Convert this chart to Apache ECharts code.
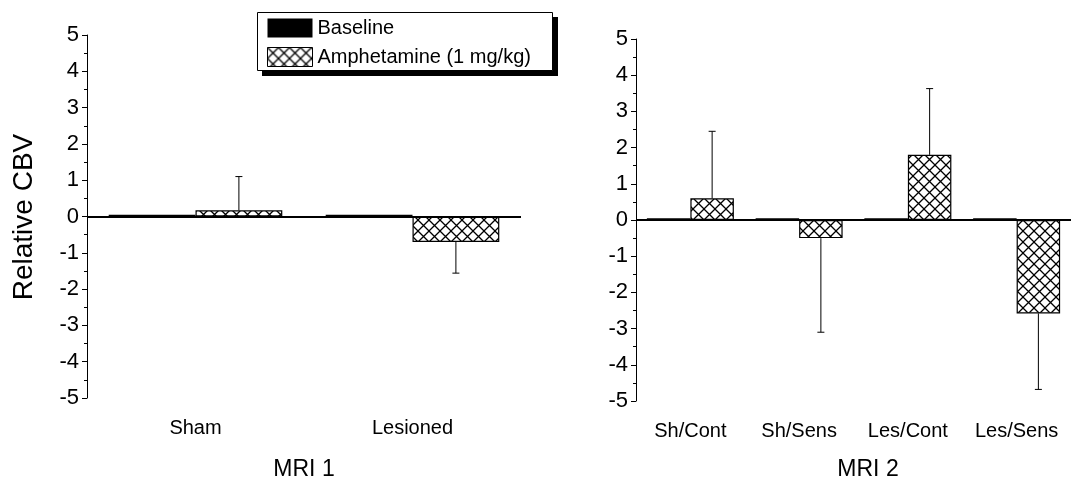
<!DOCTYPE html>
<html>
<head>
<meta charset="utf-8">
<script src="https://cdn.jsdelivr.net/npm/echarts@6/dist/echarts.min.js"></script>
<style>
  html, body { margin: 0; padding: 0; background: #fff; }
  #chart { width: 1078px; height: 494px; }
</style>
</head>
<body>
<div id="chart"></div>
<script>
// MRI 1 session
const mri1Categories = ['Sham', 'Lesioned'];
const mri1Baseline = [0.05, 0.05];
const mri1Amph = [0.17, -0.7];
const mri1AmphErr = [0.93, 0.86];

// MRI 2 session
const mri2Categories = ['Sh/Cont', 'Sh/Sens', 'Les/Cont', 'Les/Sens'];
const mri2Baseline = [0.05, 0.05, 0.05, 0.05];
const mri2Amph = [0.6, -0.5, 1.8, -2.58];
const mri2AmphErr = [1.85, 2.6, 1.83, 2.1];

const yTicks = { min: -5, max: 5, interval: 1 };
const seriesNames = ['Baseline', 'Amphetamine (1 mg/kg)'];

const FONT = '"Liberation Sans", Arial, sans-serif';

// cross-hatch fill for the amphetamine bars
function makeHatch() {
  const s = 11;
  const c = document.createElement('canvas');
  c.width = s; c.height = s;
  const ctx = c.getContext('2d');
  ctx.fillStyle = '#fff';
  ctx.fillRect(0, 0, s, s);
  ctx.strokeStyle = '#000';
  ctx.lineWidth = 1.3;
  ctx.beginPath();
  ctx.moveTo(-1, -1); ctx.lineTo(s + 1, s + 1);
  ctx.moveTo(s + 1, -1); ctx.lineTo(-1, s + 1);
  ctx.stroke();
  return c;
}
const hatch = { image: makeHatch(), repeat: 'repeat' };

function yAxisCfg(gridIndex) {
  return {
    type: 'value', gridIndex,
    min: yTicks.min, max: yTicks.max, interval: yTicks.interval,
    axisLine: { show: true, lineStyle: { color: '#000', width: 1 } },
    axisTick: { show: true, inside: false, length: 5, lineStyle: { color: '#000' } },
    minorTick: { show: true, splitNumber: 2, length: 3, lineStyle: { color: '#000' } },
    splitLine: { show: false },
    axisLabel: { color: '#000', fontSize: 22, fontFamily: FONT, margin: 8 }
  };
}

function xAxisCfg(gridIndex, cats) {
  return {
    type: 'category', gridIndex, data: cats,
    axisLine: { show: false },
    axisTick: { show: false },
    axisLabel: { color: '#000', fontSize: 20, fontFamily: FONT, margin: 20, interval: 0 }
  };
}

// one-sided error bar, drawn from the bar end away from zero
function errorRender(params, api) {
  const idx = api.value(0);
  const v = api.value(1);
  const e = api.value(2);
  const start = api.coord([idx, v]);
  const end = api.coord([idx, v >= 0 ? v + e : v - e]);
  const band = api.size([1, 0])[0];
  const x = start[0] + band * 0.2;
  const st = { stroke: '#000', lineWidth: 1 };
  return {
    type: 'group',
    children: [
      { type: 'line', shape: { x1: x, y1: start[1], x2: x, y2: end[1] }, style: st },
      { type: 'line', shape: { x1: x - 3.5, y1: end[1], x2: x + 3.5, y2: end[1] }, style: st }
    ]
  };
}

function panelSeries(gi, base, amph, err) {
  return [
    {
      type: 'bar', name: seriesNames[0], xAxisIndex: gi, yAxisIndex: gi,
      data: base, barGap: '0%', barCategoryGap: '20%',
      itemStyle: { color: '#000' },
      markLine: {
        silent: true, symbol: 'none', label: { show: false },
        lineStyle: { color: '#000', width: 2, type: 'solid' },
        data: [{ yAxis: 0 }]
      }
    },
    {
      type: 'bar', name: seriesNames[1], xAxisIndex: gi, yAxisIndex: gi,
      data: amph, barGap: '0%', barCategoryGap: '20%',
      itemStyle: { color: hatch, borderColor: '#000', borderWidth: 1.2 }
    },
    {
      type: 'custom', xAxisIndex: gi, yAxisIndex: gi, silent: true,
      renderItem: errorRender,
      encode: { x: 0, y: 1 },
      data: amph.map((v, i) => [i, v, err[i]]),
      z: 5
    }
  ];
}

const chart = echarts.init(document.getElementById('chart'));
chart.setOption({
  animation: false,
  backgroundColor: '#fff',
  grid: [
    { left: 87, right: 557, top: 35, bottom: 96 },
    { left: 636, right: 7, top: 39, bottom: 93 }
  ],
  xAxis: [xAxisCfg(0, mri1Categories), xAxisCfg(1, mri2Categories)],
  yAxis: [yAxisCfg(0), yAxisCfg(1)],
  legend: {
    orient: 'vertical', left: 258, top: 13,
    padding: [5, 10, 5, 9],
    itemWidth: 45, itemHeight: 19, itemGap: 9,
    textStyle: { color: '#000', fontSize: 20, fontFamily: FONT },
    data: [
      { name: seriesNames[0], icon: 'rect', itemStyle: { color: '#000' } },
      { name: seriesNames[1], icon: 'rect', itemStyle: { color: hatch, borderColor: '#000', borderWidth: 1 } }
    ],
    selectedMode: false,
    z: 10
  },
  graphic: [
    // legend frame with its drop shadow
    { type: 'rect', z: 1, shape: { x: 262, y: 17, width: 296, height: 59 }, style: { fill: '#000' } },
    { type: 'rect', z: 2, shape: { x: 257.5, y: 12.5, width: 295, height: 58 }, style: { fill: '#fff', stroke: '#000', lineWidth: 1 } },
    {
      type: 'text', x: 24, y: 217, rotation: Math.PI / 2,
      style: { text: 'Relative CBV', font: '28px ' + FONT, fill: '#000', align: 'center', verticalAlign: 'middle' }
    },
    {
      type: 'text', x: 304, y: 470,
      style: { text: 'MRI 1', font: '23px ' + FONT, fill: '#000', align: 'center', verticalAlign: 'middle' }
    },
    {
      type: 'text', x: 868, y: 470,
      style: { text: 'MRI 2', font: '23px ' + FONT, fill: '#000', align: 'center', verticalAlign: 'middle' }
    }
  ],
  series: [
    ...panelSeries(0, mri1Baseline, mri1Amph, mri1AmphErr),
    ...panelSeries(1, mri2Baseline, mri2Amph, mri2AmphErr)
  ]
});
</script>
</body>
</html>
